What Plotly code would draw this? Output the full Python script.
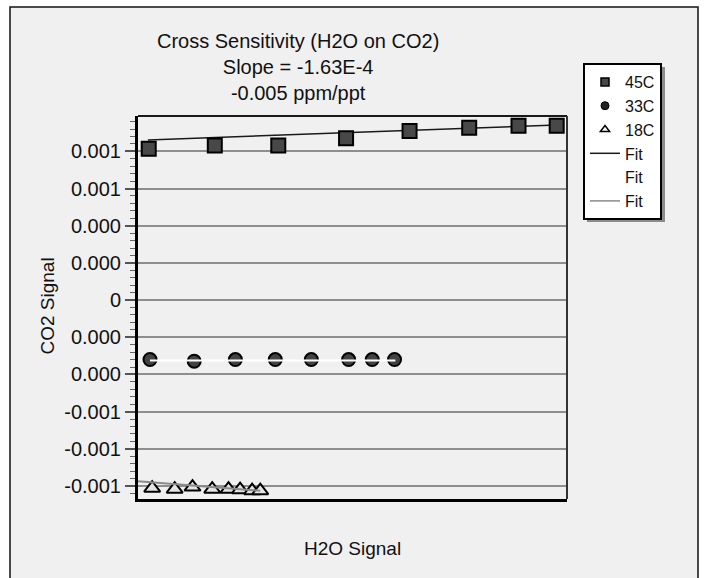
import plotly.graph_objects as go

# ---- data -------------------------------------------------------------
h2o_45c = [0.025, 0.179, 0.327, 0.485, 0.633, 0.772, 0.887, 0.976]
co2_45c = [0.000814, 0.000832, 0.000832, 0.000870, 0.000909, 0.000927, 0.000938, 0.000938]

h2o_33c = [0.028, 0.131, 0.227, 0.320, 0.404, 0.491, 0.546, 0.598]
co2_33c = [-0.000320, -0.000329, -0.000320, -0.000320, -0.000320, -0.000320, -0.000320, -0.000320]

h2o_18c = [0.033, 0.0855, 0.127, 0.173, 0.211, 0.238, 0.266, 0.285]
co2_18c = [-0.001012, -0.001017, -0.001006, -0.001017, -0.001017, -0.001020, -0.001025, -0.001025]

# fitted lines (end points)
fit_45c_x = [0.023, 0.977]
fit_45c_y = [0.000861, 0.000942]
fit_33c_x = [0.028, 0.600]
fit_33c_y = [-0.000325, -0.000325]
fit_18c_x = [0.0, 0.285]
fit_18c_y = [-0.000974, -0.001026]

tick_vals = [0.0008, 0.0006, 0.0004, 0.0002, 0.0, -0.0002, -0.0004, -0.0006, -0.0008, -0.001]
tick_text = ["0.001", "0.001", "0.000", "0.000", "0", "0.000", "0.000", "-0.001", "-0.001", "-0.001"]

# ---- layout geometry --------------------------------------------------
W, H = 704, 578
L, R, T, B = 138, 567, 116, 499


def px_x(p):
    return (p - L) / (R - L)


def px_y(p):
    return (B - p) / (B - T)


FONT = "Liberation Sans, Arial, Helvetica, sans-serif"

fig = go.Figure()

# data traces (legend entries are separate, smaller symbols)
fig.add_trace(go.Scatter(x=fit_45c_x, y=fit_45c_y, mode="lines",
                         line=dict(color="#1a1a1a", width=1.5), showlegend=False))
fig.add_trace(go.Scatter(x=h2o_45c, y=co2_45c, mode="markers", showlegend=False,
                         marker=dict(symbol="square", size=14, color="#484848",
                                     line=dict(color="#000000", width=2))))
fig.add_trace(go.Scatter(x=h2o_33c, y=co2_33c, mode="markers", showlegend=False,
                         marker=dict(symbol="circle", size=13, color="#424242",
                                     line=dict(color="#000000", width=2))))
fig.add_trace(go.Scatter(x=fit_33c_x, y=fit_33c_y, mode="lines",
                         line=dict(color="#ffffff", width=2), showlegend=False))
fig.add_trace(go.Scatter(x=h2o_18c, y=co2_18c, mode="markers", showlegend=False,
                         marker=dict(symbol="triangle-up", size=14, color="#e4e4e4",
                                     line=dict(color="#000000", width=2))))
fig.add_trace(go.Scatter(x=fit_18c_x, y=fit_18c_y, mode="lines",
                         line=dict(color="#8a8a8a", width=2), showlegend=False))

# legend entries
fig.add_trace(go.Scatter(x=[None], y=[None], mode="markers", name="45C",
                         marker=dict(symbol="square", size=8, color="#484848",
                                     line=dict(color="#000000", width=1.5))))
fig.add_trace(go.Scatter(x=[None], y=[None], mode="markers", name="33C",
                         marker=dict(symbol="circle", size=8, color="#222222",
                                     line=dict(color="#000000", width=1))))
fig.add_trace(go.Scatter(x=[None], y=[None], mode="markers", name="18C",
                         marker=dict(symbol="triangle-up", size=8, color="#ffffff",
                                     line=dict(color="#000000", width=1.5))))
fig.add_trace(go.Scatter(x=[None], y=[None], mode="lines", name="Fit",
                         line=dict(color="#1a1a1a", width=1.5)))
fig.add_trace(go.Scatter(x=[None], y=[None], mode="lines", name="Fit",
                         line=dict(color="#ffffff", width=1.5)))
fig.add_trace(go.Scatter(x=[None], y=[None], mode="lines", name="Fit",
                         line=dict(color="#8a8a8a", width=1.5)))

shapes = [
    # page frame
    dict(type="rect", xref="paper", yref="paper", layer="below",
         x0=px_x(10), x1=px_x(698), y0=px_y(600), y1=px_y(7),
         fillcolor="#f0f0f0", line=dict(color="#111111", width=1.5)),
    # top and right plot border
    dict(type="line", xref="paper", yref="paper", x0=0, x1=1, y0=1, y1=1,
         line=dict(color="#1a1a1a", width=2)),
    dict(type="line", xref="paper", yref="paper", x0=1, x1=1, y0=0, y1=1,
         line=dict(color="#333333", width=2)),
    # legend drop shadow
    dict(type="rect", xref="paper", yref="paper", layer="below",
         x0=px_x(587), x1=px_x(665), y0=px_y(222), y1=px_y(67),
         fillcolor="#8c8c8c", line=dict(width=0)),
]

annotations = [
    dict(text="Cross Sensitivity (H2O on CO2)<br>Slope = -1.63E-4<br>-0.005 ppm/ppt",
         xref="paper", yref="paper", x=px_x(297.5), y=px_y(66.7),
         xanchor="center", yanchor="middle", showarrow=False, align="center",
         font=dict(family=FONT, size=20, color="#111111")),
    dict(text="CO2 Signal", xref="paper", yref="paper", x=px_x(47), y=px_y(306.5),
         xanchor="center", yanchor="middle", textangle=-90, showarrow=False,
         font=dict(family=FONT, size=19, color="#111111")),
    dict(text="H2O Signal", xref="paper", yref="paper", x=px_x(352), y=px_y(548),
         xanchor="center", yanchor="middle", showarrow=False,
         font=dict(family=FONT, size=19, color="#111111")),
]

fig.update_layout(
    width=W, height=H,
    margin=dict(l=L, r=W - R, t=T, b=H - B, pad=0),
    paper_bgcolor="#ffffff",
    plot_bgcolor="#f0f0f0",
    font=dict(family=FONT, size=19, color="#111111"),
    showlegend=True,
    legend=dict(x=px_x(583), y=px_y(63), xanchor="left", yanchor="top",
                bgcolor="#ffffff", bordercolor="#000000", borderwidth=2,
                font=dict(family=FONT, size=16, color="#111111"),
                traceorder="normal", itemwidth=30),
    shapes=shapes,
    annotations=annotations,
    xaxis=dict(range=[0, 1], showgrid=False, zeroline=False, showticklabels=False,
               ticks="", showline=True, linecolor="#000000", linewidth=3,
               fixedrange=True),
    yaxis=dict(range=[-0.00107, 0.00099], tickmode="array", tickvals=tick_vals,
               ticktext=tick_text, ticks="outside", ticklen=10, tickwidth=1.5,
               tickcolor="#555555", showgrid=True, gridcolor="#8e8e8e", gridwidth=1.5,
               zeroline=False, showline=True, linecolor="#000000", linewidth=3,
               tickfont=dict(family=FONT, size=20, color="#111111"),
               minor=dict(ticks="outside", ticklen=5, tickwidth=1, tickcolor="#666666",
                          tick0=0, dtick=0.00004, showgrid=False),
               fixedrange=True),
)

fig.write_html("out.html")
